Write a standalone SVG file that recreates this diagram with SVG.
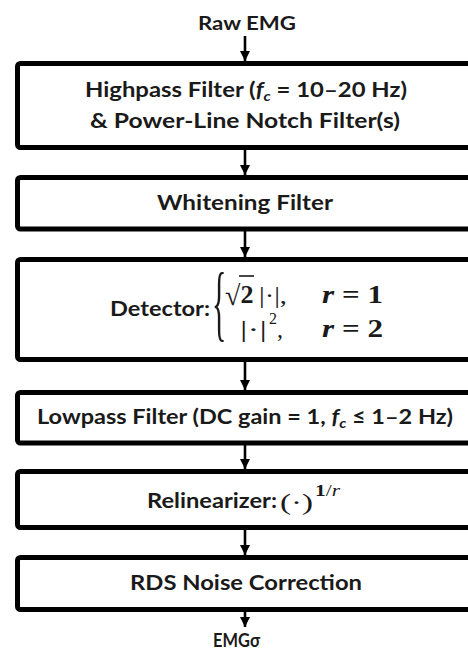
<svg xmlns="http://www.w3.org/2000/svg" width="468" height="657" viewBox="0 0 468 657">
<defs>
<style>
.box{fill:#fff;stroke:#000;stroke-width:5}
.t{font-family:Lato,"Open Sans","Liberation Sans",sans-serif;font-weight:bold;fill:#1a1a1a;text-anchor:middle}
.m{font-family:"Liberation Serif","DejaVu Serif",serif;fill:#1a1a1a}
.c{stroke:#000;stroke-width:2.6;fill:none}
</style>
<marker id="ah" viewBox="0 0 10 10" refX="10" refY="5" markerWidth="10" markerHeight="10" markerUnits="userSpaceOnUse" orient="auto">
<path d="M0,0 L10,5 L0,10 z" fill="#000"/>
</marker>
</defs>
<rect width="468" height="657" fill="#fff"/>

<g id="connectors">
<line class="c" x1="245" y1="36" x2="245" y2="61" marker-end="url(#ah)"/>
<line class="c" x1="245" y1="150" x2="245" y2="175" marker-end="url(#ah)"/>
<line class="c" x1="245" y1="231" x2="245" y2="257" marker-end="url(#ah)"/>
<line class="c" x1="245" y1="362" x2="245" y2="390" marker-end="url(#ah)"/>
<line class="c" x1="245" y1="445" x2="245" y2="469" marker-end="url(#ah)"/>
<line class="c" x1="245" y1="530" x2="245" y2="555" marker-end="url(#ah)"/>
<line class="c" x1="245" y1="612" x2="245" y2="627" marker-end="url(#ah)"/>
</g>

<g id="raw-emg">
<text class="t" x="247" y="30" font-size="19" textLength="98" lengthAdjust="spacingAndGlyphs">Raw EMG</text>
</g>

<g id="highpass">
<rect class="box" x="17.5" y="63.5" width="470" height="84" rx="3"/>
<text class="t" x="246" y="97" font-size="21" textLength="322" lengthAdjust="spacingAndGlyphs">Highpass  Filter (<tspan font-style="italic">f</tspan><tspan font-size="14" dy="4" font-style="italic">c</tspan><tspan dy="-4"> = 10–20 Hz)</tspan></text>
<text class="t" x="245" y="128" font-size="21" textLength="310" lengthAdjust="spacingAndGlyphs">&amp; Power-Line Notch Filter(s)</text>
</g>

<g id="whitening">
<rect class="box" x="17.5" y="177.5" width="470" height="51.5" rx="3"/>
<text class="t" x="245" y="210" font-size="21" textLength="176" lengthAdjust="spacingAndGlyphs">Whitening Filter</text>
</g>

<g id="detector">
<rect class="box" x="17.5" y="259.5" width="470" height="100" rx="3"/>
<text class="t" x="160" y="316" font-size="21" textLength="100" lengthAdjust="spacingAndGlyphs">Detector:</text>
<text class="m" transform="translate(212,331) scale(1,2.85)" font-size="30">{</text>
<text class="m" x="225" y="305" font-size="28">√<tspan font-size="26" font-weight="bold" dy="-2">2</tspan></text>
<line x1="239" y1="276" x2="254" y2="276" stroke="#1a1a1a" stroke-width="1.6"/>
<text class="m" x="259" y="303" font-size="24" textLength="28" lengthAdjust="spacingAndGlyphs">|·|,</text>
<text class="m" x="322" y="303" font-size="26" font-weight="bold" textLength="61" lengthAdjust="spacingAndGlyphs"><tspan font-style="italic">r</tspan> = 1</text>
<text class="m" x="240" y="337" font-size="24" textLength="27" lengthAdjust="spacingAndGlyphs">|·|</text>
<text class="m" x="269" y="324" font-size="16">2<tspan font-size="24" dy="13">,</tspan></text>
<text class="m" x="322" y="337" font-size="26" font-weight="bold" textLength="61" lengthAdjust="spacingAndGlyphs"><tspan font-style="italic">r</tspan> = 2</text>
</g>

<g id="lowpass">
<rect class="box" x="17.5" y="392.5" width="470" height="50.5" rx="3"/>
<text class="t" x="245" y="424" font-size="21" textLength="416" lengthAdjust="spacingAndGlyphs">Lowpass Filter (DC gain = 1, <tspan font-style="italic">f</tspan><tspan font-size="14" dy="4" font-style="italic">c</tspan><tspan dy="-4"> ≤ 1–2 Hz)</tspan></text>
</g>

<g id="relinearizer">
<rect class="box" x="17.5" y="471.5" width="470" height="56" rx="3"/>
<text class="t" x="212" y="508" font-size="21" textLength="130" lengthAdjust="spacingAndGlyphs">Relinearizer:</text>
<text class="m" x="280" y="510" font-size="23" textLength="33" lengthAdjust="spacingAndGlyphs">(·)</text>
<text class="m" x="315" y="496" font-size="17" textLength="25" lengthAdjust="spacingAndGlyphs"><tspan font-weight="bold">1</tspan>/<tspan font-style="italic">r</tspan></text>
</g>

<g id="rds">
<rect class="box" x="17.5" y="557.5" width="470" height="52" rx="3"/>
<text class="t" x="246" y="590" font-size="21" textLength="232" lengthAdjust="spacingAndGlyphs">RDS Noise Correction</text>
</g>

<g id="emg-sigma">
<text class="t" x="236.5" y="647" font-size="18" textLength="47" lengthAdjust="spacingAndGlyphs">EMGσ</text>
</g>
</svg>
